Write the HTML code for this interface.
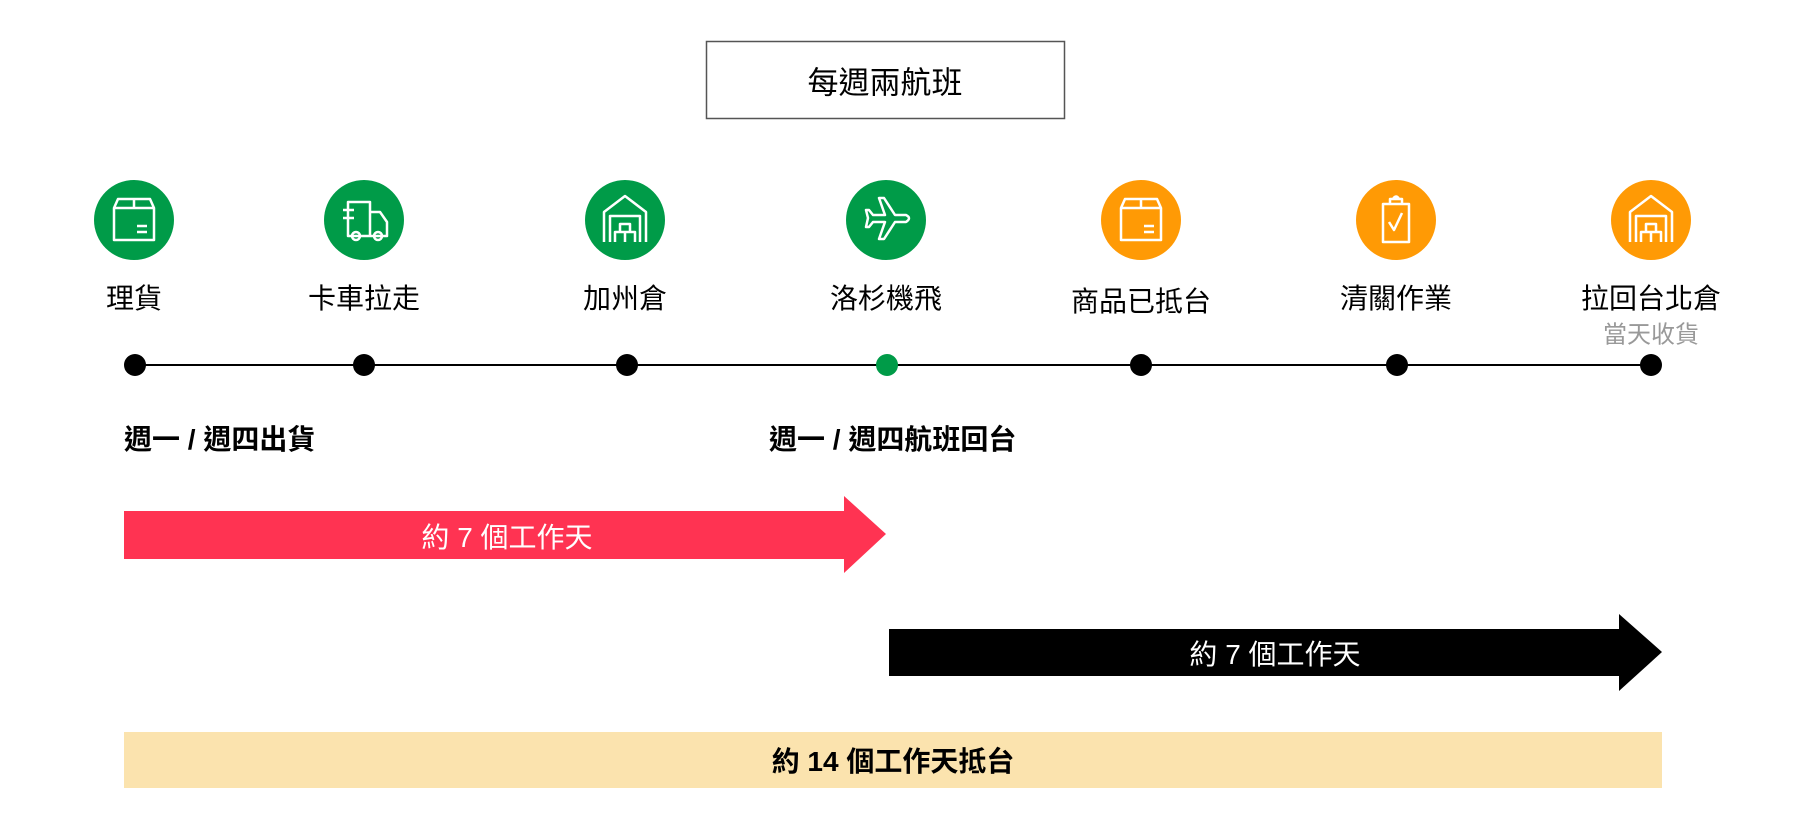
<!DOCTYPE html>
<html><head><meta charset="utf-8"><style>
body{margin:0;width:1816px;height:828px;background:#fff;position:relative;overflow:hidden;font-family:"Liberation Sans","Noto Sans CJK TC",sans-serif;}
.t{position:absolute;transform:translate(-50%,-50%);white-space:nowrap;}
</style></head><body>
<svg width="1816" height="828" style="position:absolute;left:0;top:0">
<rect x="706.5" y="41.5" width="358" height="77" fill="#fff" stroke="#555" stroke-width="1.5"/>
<line x1="135" y1="365" x2="1651" y2="365" stroke="#000" stroke-width="2"/>
<g fill="#000">
<circle cx="135" cy="365" r="11"/><circle cx="364" cy="365" r="11"/><circle cx="627" cy="365" r="11"/>
<circle cx="1141" cy="365" r="11"/><circle cx="1397" cy="365" r="11"/><circle cx="1651" cy="365" r="11"/>
</g>
<circle cx="887" cy="365" r="11" fill="#009b48"/>
<g fill="#009b48"><circle cx="134" cy="220" r="40"/><circle cx="364" cy="220" r="40"/><circle cx="625" cy="220" r="40"/><circle cx="886" cy="220" r="40"/></g>
<g fill="#ff9a05"><circle cx="1141" cy="220" r="40"/><circle cx="1396" cy="220" r="40"/><circle cx="1651" cy="220" r="40"/></g>
<g fill="none" stroke="#fff" stroke-width="2.5" stroke-linejoin="round">
<path d="M114 208 L118 199 H150 L154 208 V240 H114 Z M114 208 H154 M134 199 V208 M137 226 H147 M137 232 H147"/>
<path d="M1121 208 L1125 199 H1157 L1161 208 V240 H1121 Z M1121 208 H1161 M1141 199 V208 M1144 226 H1154 M1144 232 H1154"/>
<path d="M348 202 H370 V236 H348 Z M370 212 H380 L387 222 V236 H370 M343 210 H354 M343 218 H354"/>
<circle cx="356" cy="236" r="4"/><circle cx="378" cy="236" r="4"/>
<path d="M604 242 V212 L625 196 L646 212 V242 M610 242 V216 H640 V242 M615 242 V232 H635 V242 M625 232 V242 M620 232 V224 H630 V232"/>
<path d="M1630 242 V212 L1651 196 L1672 212 V242 M1636 242 V216 H1666 V242 M1641 242 V232 H1661 V242 M1651 232 V242 M1646 232 V224 H1656 V232"/>
<path d="M879 198 H884 L895 215 H906 Q912 218 906 222 H895 L884 239 H879 L885 222 H873 L869 227 H866 L868 218 L866 210 H869 L873 215 H885 Z"/>
<path d="M1383 204 H1409 V242 H1383 Z M1390 204 V199 H1402 V204 M1393 199 Q1396 194 1399 199 M1389 222 L1394 230 L1402 213"/>
</g>
<polygon points="124,511 844,511 844,496 886,534 844,573 844,559 124,559" fill="#ff3352"/>
<polygon points="889,629 1619,629 1619,614 1662,652 1619,691 1619,676 889,676" fill="#000"/>
<rect x="124" y="732" width="1538" height="56" fill="#fbe3ae"/>
</svg>
<div class="t" style="left:885px;top:80px;font-size:31px">每週兩航班</div>
<div class="t" style="left:134px;top:297px;font-size:28px">理貨</div>
<div class="t" style="left:364px;top:297px;font-size:28px">卡車拉走</div>
<div class="t" style="left:625px;top:297px;font-size:28px">加州倉</div>
<div class="t" style="left:886px;top:297px;font-size:28px">洛杉機飛</div>
<div class="t" style="left:1141px;top:300px;font-size:28px">商品已抵台</div>
<div class="t" style="left:1396px;top:297px;font-size:28px">清關作業</div>
<div class="t" style="left:1651px;top:297px;font-size:28px">拉回台北倉</div>
<div class="t" style="left:1651px;top:332px;font-size:24px;color:#999">當天收貨</div>
<div style="position:absolute;left:124px;top:418px;font-size:28px;font-weight:bold;white-space:nowrap">週一 / 週四出貨</div>
<div style="position:absolute;left:769px;top:418px;font-size:28px;font-weight:bold;white-space:nowrap">週一 / 週四航班回台</div>
<div class="t" style="left:507px;top:536px;font-size:28px;color:#fff">約 7 個工作天</div>
<div class="t" style="left:1275px;top:653px;font-size:28px;color:#fff">約 7 個工作天</div>
<div class="t" style="left:893px;top:760px;font-size:28px;font-weight:bold">約 14 個工作天抵台</div>
</body></html>
